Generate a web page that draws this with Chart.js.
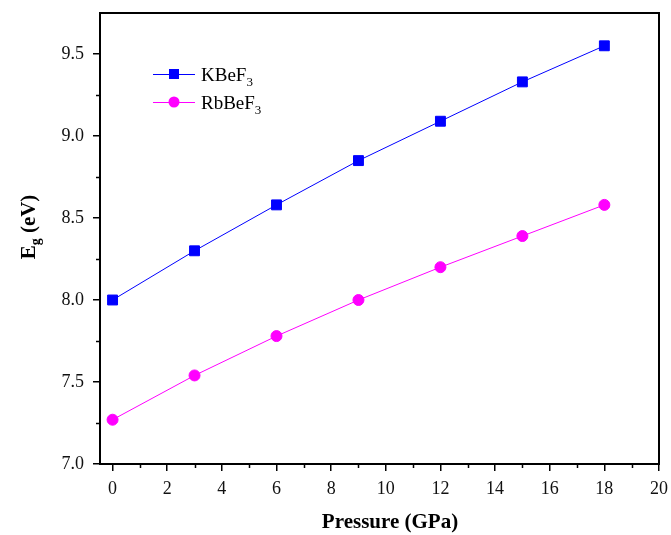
<!DOCTYPE html>
<html>
<head>
<meta charset="utf-8">
<script src="https://cdn.jsdelivr.net/npm/chart.js@4/dist/chart.umd.min.js"></script>
<style>
html,body{margin:0;padding:0;background:#fff;}
#wrap{width:671px;height:535px;position:relative;}
</style>
</head>
<body>
<div id="wrap"><canvas id="c" width="671" height="535"></canvas></div>
<script>
const pressure = [0, 3, 6, 9, 12, 15, 18];
const kbef3 = [8.00, 8.30, 8.58, 8.85, 9.09, 9.33, 9.55];
const rbbef3 = [7.27, 7.54, 7.78, 8.00, 8.20, 8.39, 8.58];
const xTicks = [0, 2, 4, 6, 8, 10, 12, 14, 16, 18, 20];
const xMinor = [1, 3, 5, 7, 9, 11, 13, 15, 17, 19];
const yTicks = [7.0, 7.5, 8.0, 8.5, 9.0, 9.5];
const yMinor = [7.25, 7.75, 8.25, 8.75, 9.25];
const seriesNames = ["KBeF", "RbBeF"];
const seriesSubs = ["3", "3"];

const serif = "'Liberation Serif', 'Times New Roman', serif";

const framePlugin = {
  id: 'frame',
  afterDraw(chart) {
    const ctx = chart.ctx;
    const a = chart.chartArea;
    const xs = chart.scales.x, ys = chart.scales.y;
    ctx.save();
    ctx.strokeStyle = '#000';
    ctx.lineWidth = 2;
    ctx.strokeRect(a.left, a.top, a.right - a.left, a.bottom - a.top);
    // minor ticks
    ctx.lineWidth = 1.5;
    ctx.beginPath();
    xMinor.forEach(v => {
      const px = Math.round(xs.getPixelForValue(v)) + 0.5;
      ctx.moveTo(px, a.bottom); ctx.lineTo(px, a.bottom + 4);
    });
    yMinor.forEach(v => {
      const py = Math.round(ys.getPixelForValue(v)) + 0.5;
      ctx.moveTo(a.left, py); ctx.lineTo(a.left - 4, py);
    });
    ctx.stroke();

    // axis titles
    ctx.fillStyle = '#000';
    ctx.font = "bold 21px " + serif;
    ctx.textAlign = 'center';
    ctx.textBaseline = 'middle';
    ctx.fillText('Pressure (GPa)', 390, 523);

    // y title rotated: E_g (eV)
    ctx.save();
    ctx.translate(28, 227);
    ctx.rotate(-Math.PI / 2);
    ctx.textAlign = 'left';
    ctx.textBaseline = 'alphabetic';
    const bigF = "bold 21px " + serif, smallF = "bold 14px " + serif;
    ctx.font = bigF; const wE = ctx.measureText('E').width;
    ctx.font = smallF; const wg = ctx.measureText('g').width;
    ctx.font = bigF; const wR = ctx.measureText(' (eV)').width;
    const total = wE + wg + wR;
    let x0 = -total / 2;
    const base = 7;
    ctx.font = bigF; ctx.fillText('E', x0, base); x0 += wE;
    ctx.font = smallF; ctx.fillText('g', x0, base + 5); x0 += wg;
    ctx.font = bigF; ctx.fillText(' (eV)', x0, base);
    ctx.restore();

    // legend
    const items = [
      {color: '#0000FF', style: 'rect', r: 7, y: 74},
      {color: '#FF00FF', style: 'circle', r: 5.5, y: 102}
    ];
    items.forEach((it, i) => {
      ctx.strokeStyle = it.color;
      ctx.lineWidth = 1;
      ctx.beginPath();
      ctx.moveTo(153, it.y + 0.5); ctx.lineTo(195, it.y + 0.5);
      ctx.stroke();
      ctx.fillStyle = it.color;
      if (it.style === 'rect') {
        ctx.fillRect(174 - 5, it.y - 5, 10, 10);
      } else {
        ctx.beginPath(); ctx.arc(174, it.y, it.r, 0, Math.PI * 2); ctx.fill();
      }
      ctx.fillStyle = '#000';
      ctx.textAlign = 'left';
      ctx.textBaseline = 'alphabetic';
      ctx.font = "19px " + serif;
      ctx.fillText(seriesNames[i], 201, it.y + 7);
      const w = ctx.measureText(seriesNames[i]).width;
      ctx.font = "13px " + serif;
      ctx.fillText(seriesSubs[i], 201 + w, it.y + 12);
    });
    ctx.restore();
  }
};

new Chart(document.getElementById('c'), {
  type: 'line',
  data: {
    datasets: [
      {
        label: 'KBeF3',
        data: pressure.map((p, i) => ({x: p, y: kbef3[i]})),
        borderColor: '#0000FF',
        backgroundColor: '#0000FF',
        borderWidth: 1,
        pointStyle: 'rect',
        pointRadius: 7,
        pointHoverRadius: 7,
        tension: 0
      },
      {
        label: 'RbBeF3',
        data: pressure.map((p, i) => ({x: p, y: rbbef3[i]})),
        borderColor: '#FF00FF',
        backgroundColor: '#FF00FF',
        borderWidth: 1,
        pointStyle: 'circle',
        pointRadius: 5.5,
        pointHoverRadius: 5.5,
        tension: 0
      }
    ]
  },
  options: {
    responsive: false,
    animation: false,
    layout: {padding: {top: 13, right: 12, left: 0, bottom: 0}},
    plugins: {legend: {display: false}, tooltip: {enabled: false}},
    scales: {
      x: {
        type: 'linear',
        min: -0.46,
        max: 20,
        afterBuildTicks(s) { s.ticks = xTicks.map(v => ({value: v})); },
        afterFit(s) { s.height = 71; s.paddingLeft = 0; s.paddingRight = 0; },
        grid: {drawOnChartArea: false, color: '#000', lineWidth: 1.5, tickLength: 7},
        border: {display: false},
        ticks: {
          color: '#111',
          font: {family: serif, size: 18},
          padding: 7,
          maxRotation: 0,
          callback: v => String(v)
        }
      },
      y: {
        type: 'linear',
        min: 7.0,
        max: 9.75,
        afterBuildTicks(s) { s.ticks = yTicks.map(v => ({value: v})); },
        afterFit(s) { s.width = 100; s.paddingTop = 0; s.paddingBottom = 0; },
        grid: {drawOnChartArea: false, color: '#000', lineWidth: 1.5, tickLength: 7},
        border: {display: false},
        ticks: {
          color: '#111',
          font: {family: serif, size: 18},
          padding: 9,
          callback: v => Number(v).toFixed(1)
        }
      }
    }
  },
  plugins: [framePlugin]
});
</script>
</body>
</html>
